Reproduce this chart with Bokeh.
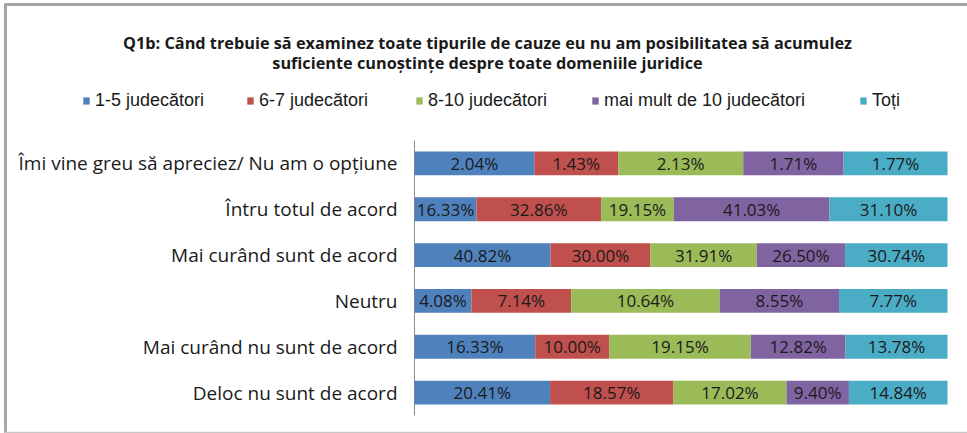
from bokeh.plotting import figure
from bokeh.models import Range1d, ColumnDataSource, Legend, LegendItem, Label
from bokeh.embed import file_html
from bokeh.resources import INLINE
from bokeh.core.properties import value

title_line1 = "Q1b: Când trebuie să examinez toate tipurile de cauze eu nu am posibilitatea să acumulez"
title_line2 = "suficiente cunoștințe despre toate domeniile juridice"

categories = [
    "Îmi vine greu să apreciez/ Nu am o opțiune",
    "Întru totul de acord",
    "Mai curând sunt de acord",
    "Neutru",
    "Mai curând nu sunt de acord",
    "Deloc nu sunt de acord",
]
series_names = ["1-5 judecători", "6-7 judecători", "8-10 judecători",
                "mai mult de 10 judecători", "Toți"]
v_1_5 = [2.04, 16.33, 40.82, 4.08, 16.33, 20.41]
v_6_7 = [1.43, 32.86, 30.00, 7.14, 10.00, 18.57]
v_8_10 = [2.13, 19.15, 31.91, 10.64, 19.15, 17.02]
v_10plus = [1.71, 41.03, 26.50, 8.55, 12.82, 9.40]
v_toti = [1.77, 31.10, 30.74, 7.77, 13.78, 14.84]
series_values = [v_1_5, v_6_7, v_8_10, v_10plus, v_toti]
colors = ["#4F81BD", "#C0504D", "#9BBB59", "#8064A2", "#4BACC6"]

# ---- layout (pixels) ----
W, H = 967, 433
PLOT_L, PLOT_R = 414, 947       # 0% .. 100% of the stacked bar
PLOT_T, PLOT_B = 140, 415       # category band area
LEGEND_X = [82, 246, 415, 591, 859]
TXT = "#1a1a1a"
FONT = "Open Sans"

n = len(categories)
band = (PLOT_B - PLOT_T) / n
sx = PLOT_R - PLOT_L

def px_x(px):
    return (px - PLOT_L) / sx

def px_y(py):
    return (n - 0.5) - (py - PLOT_T) / band

p = figure(width=W, height=H, output_backend="svg", toolbar_location=None,
           x_range=Range1d(px_x(0), px_x(W)), y_range=Range1d(px_y(H), px_y(0)),
           min_border=0)
p.outline_line_color = None
p.axis.visible = False
p.grid.visible = False

# picture frame
p.segment(x0=[px_x(4), px_x(5), px_x(4)], y0=[px_y(4), px_y(3), px_y(432)],
          x1=[px_x(W), px_x(5), px_x(W)], y1=[px_y(4), px_y(H), px_y(432)],
          line_color=["#a6a6a6", "#a6a6a6", "#c8c8c8"], line_width=[3, 3, 1.5])

ypos = [n - 1 - i for i in range(n)]

# category axis: line + labels
p.segment(x0=[0], y0=[-0.5], x1=[0], y1=[n - 0.5], line_color="#8c8c8c", line_width=1)
p.text(x=[0] * n, y=ypos, text=categories, x_offset=-17, text_align="right",
       text_baseline="middle", text_font=value(FONT), text_font_size="19px",
       text_color=TXT)

# 100% stacked: normalise each row
totals = [sum(vals) for vals in zip(*series_values)]
left = [0.0] * n
renderers = []
for name, vals, col in zip(series_names, series_values, colors):
    frac = [v / t for v, t in zip(vals, totals)]
    right = [l + f for l, f in zip(left, frac)]
    src = ColumnDataSource(dict(
        y=ypos, left=left, right=right,
        mid=[(l + r) / 2 for l, r in zip(left, right)],
        lbl=[f"{v:.2f}%" for v in vals]))
    r = p.hbar(y="y", left="left", right="right", height=0.52, source=src,
               fill_color=col, line_color=None)
    p.text(x="mid", y="y", text="lbl", source=src, text_align="center",
           text_baseline="middle", text_font=value(FONT),
           text_font_size="17px", text_color=TXT)
    renderers.append(r)
    left = right

# title
for txt, ty in [(title_line1, 42), (title_line2, 62)]:
    p.add_layout(Label(x=px_x(487), y=px_y(ty), text=txt, text_align="center",
                       text_baseline="middle", text_font=FONT,
                       text_font_style="bold", text_font_size="16.3px",
                       text_color=TXT))

# legend, one entry per position
for name, r, lx in zip(series_names, renderers, LEGEND_X):
    lg = Legend(items=[LegendItem(label=name, renderers=[r])],
                location=(lx, H - 91 - 20), orientation="horizontal",
                glyph_width=8, glyph_height=9, label_standoff=5,
                label_height=20, label_text_font="Liberation Sans",
                label_text_font_size="18px", label_text_color=TXT,
                label_text_baseline="middle",
                border_line_color=None, background_fill_alpha=0,
                padding=0, margin=0)
    p.add_layout(lg, "center")

open("out.html", "w").write(file_html(p, INLINE))
